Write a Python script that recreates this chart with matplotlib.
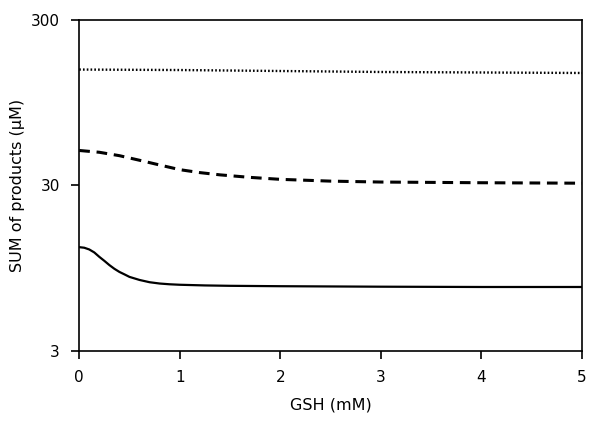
import matplotlib
matplotlib.use('Agg')
import matplotlib.pyplot as plt
from matplotlib.ticker import FixedLocator, NullLocator

# GSH concentration (mM) and summed products (uM)
gsh_dotted = [0.0, 1.0, 2.0, 3.0, 4.0, 5.0]
sum_dotted = [150, 149, 147, 145, 144, 143]

gsh_dashed = [0.0, 0.2, 0.4, 0.6, 0.8, 1.0, 1.2, 1.4, 1.7, 2.0, 2.5, 3.0, 4.0, 5.0]
sum_dashed = [48.7, 47.5, 45.3, 42.5, 39.8, 37.3, 35.8, 34.7, 33.5, 32.6, 31.8, 31.4, 31.1, 30.9]

gsh_solid = [0.0, 0.05, 0.1, 0.15, 0.2, 0.25, 0.3, 0.35, 0.4, 0.45, 0.5,
             0.6, 0.7, 0.8, 0.9, 1.0, 1.25, 1.5, 2.0, 3.0, 4.0, 5.0]
sum_solid = [12.7, 12.6, 12.3, 11.8, 11.1, 10.5, 9.9, 9.4, 9.0, 8.7, 8.4,
             8.05, 7.8, 7.66, 7.58, 7.53, 7.46, 7.42, 7.38, 7.33, 7.3, 7.3]

x_ticks = [0, 1, 2, 3, 4, 5]
y_ticks = [3, 30, 300]

fig = plt.figure(figsize=(6, 4.28), dpi=100)
ax = fig.add_axes([0.132, 0.18, 0.838, 0.774])

ax.plot(gsh_dotted, sum_dotted, color='black', lw=1.7, linestyle=(0, (0.7, 0.9)))
ax.plot(gsh_dashed, sum_dashed, color='black', lw=2.2, linestyle=(0, (3.5, 2.2)))
ax.plot(gsh_solid, sum_solid, color='black', lw=1.6, linestyle='-')

ax.set_yscale('log')
ax.set_xlim(0, 5)
ax.set_ylim(3, 300)
ax.xaxis.set_major_locator(FixedLocator(x_ticks))
ax.yaxis.set_major_locator(FixedLocator(y_ticks))
ax.yaxis.set_minor_locator(NullLocator())
ax.set_yticklabels([str(v) for v in y_ticks])
ax.set_xticklabels([str(v) for v in x_ticks])

for s in ax.spines.values():
    s.set_linewidth(1.2)
ax.tick_params(axis='both', direction='out', length=6, width=1.2,
               labelsize=11, pad=8)

ax.set_xlabel('GSH (mM)', fontsize=11.5, labelpad=9)
ax.set_ylabel('SUM of products (μM)', fontsize=11.5, labelpad=4)

plt.savefig('out.png', dpi=100)
plt.close(fig)
